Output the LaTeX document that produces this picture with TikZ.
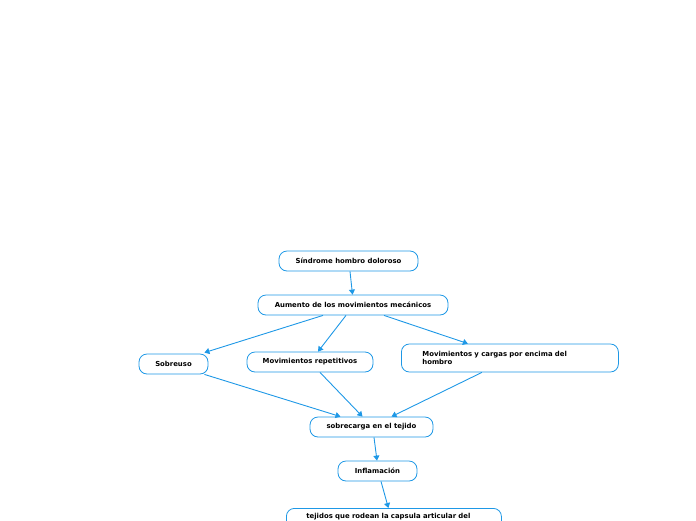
\documentclass[tikz,border=0pt]{standalone}
\usepackage{fontspec}
\setmainfont{DejaVu Sans}
\usepackage{tikz}
\usetikzlibrary{arrows.meta}
\definecolor{mapblue}{RGB}{30,152,230}

\begin{document}
\begin{tikzpicture}[x=1pt,y=-1pt,
    topic/.style={draw=mapblue, line width=0.8pt, rounded corners=8pt, fill=white,
        minimum height=20pt, inner xsep=0pt, inner ysep=0pt,
        font=\fontsize{6.9}{8.2}\selectfont\bfseries},
    link/.style={draw=mapblue, line width=0.9pt, -{Triangle[length=5pt,width=6pt]}}]
            \useasboundingbox (0,0) rectangle (696,520);

            \node[topic, minimum width=139pt] (sindrome) at (348.5,261) {Síndrome hombro doloroso};
            \node[topic, minimum width=190pt] (aumento) at (353,305) {Aumento de los movimientos mecánicos};

            \node[topic, minimum width=69pt] (sobreuso) at (173.5,364) {Sobreuso};
            \node[topic, minimum width=126pt] (repetitivos) at (310,362) {Movimientos repetitivos};
            \node[topic, minimum height=28pt, anchor=west, inner xsep=21pt, text width=175pt, align=left] (cargas) at (401,358) {Movimientos y cargas por encima del\\hombro};

            \node[topic, minimum width=123pt] (sobrecarga) at (371.5,427) {sobrecarga en el tejido};
            \node[topic, minimum width=79pt] (inflamacion) at (377.5,471) {Inflamación};
            \node[topic, anchor=north west, inner xsep=20pt, inner ysep=5pt, text height=5pt, text depth=14pt, text width=175pt, align=left] (tejidos) at (286,508) {tejidos que rodean la capsula articular del};

            \draw[link] ([xshift=1.5pt]sindrome.south) -- ([xshift=-0.5pt]aumento.north);
            \draw[link] ([xshift=-30pt]aumento.south) -- ([xshift=-4pt,yshift=1pt]sobreuso.north east);
            \draw[link] ([xshift=-7pt]aumento.south) -- ([xshift=8pt]repetitivos.north);
            \draw[link] ([xshift=31pt]aumento.south) -- ([xshift=-42pt]cargas.north);

            \draw[link] ([xshift=-4pt]sobreuso.south east) -- ([xshift=-31pt]sobrecarga.north);
            \draw[link] ([xshift=10pt]repetitivos.south) -- ([xshift=-9pt]sobrecarga.north);
            \draw[link] ([xshift=-28pt]cargas.south) -- ([xshift=20pt]sobrecarga.north);

            \draw[link] ([xshift=2.5pt]sobrecarga.south) -- ([xshift=-0.5pt]inflamacion.north);
            \draw[link] ([xshift=3.5pt]inflamacion.south) -- ([xshift=-5.5pt]tejidos.north);
         \end{tikzpicture}
\end{document}
